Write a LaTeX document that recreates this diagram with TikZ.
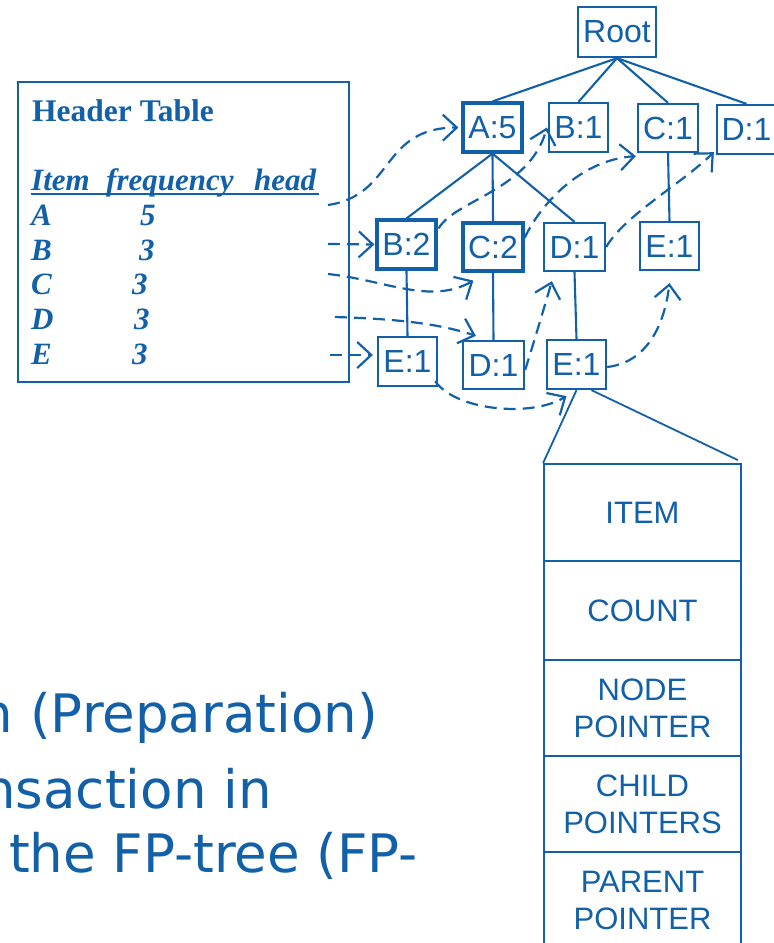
\documentclass[tikz,border=0pt]{standalone}
\usepackage{fontspec}
\setmainfont{Liberation Serif}
\newfontfamily\arialf{Liberation Sans}
\newfontfamily\verdf{DejaVu Sans}
\usetikzlibrary{arrows.meta,calc}
\definecolor{bl}{RGB}{18,96,168}
\begin{document}
\begin{tikzpicture}[x=1pt,y=-1pt,
  tn/.style={draw=bl, line width=2.3pt, rectangle, minimum width=59pt, minimum height=49pt, inner sep=0pt, text=bl, font=\arialf\fontsize{32}{37}\selectfont},
  tnb/.style={tn, line width=3.2pt},
  treeline/.style={draw=bl, line width=2.1pt},
  ptr/.style={draw=bl, line width=2.2pt, dash pattern=on 12pt off 7pt, -{Straight Barb[length=14pt,width=26pt,line width=2.2pt]}},
  httext/.style={anchor=base west, inner sep=0pt, text=bl, font=\fontsize{31}{37}\selectfont\bfseries\itshape},
  fld/.style={draw=bl, line width=1.8pt, minimum width=197pt, inner sep=0pt, text=bl, align=center, font=\arialf\fontsize{31}{37}\selectfont},
  bodytext/.style={anchor=base east, inner sep=0pt, text=bl, font=\verdf\fontsize{53}{60}\selectfont}]
\useasboundingbox (0,0) rectangle (774,943);
\clip (0,0) rectangle (774,943);

% Header table
\node[draw=bl, line width=2.3pt, minimum width=331pt, minimum height=300pt, inner sep=0pt] (ht) at (183.5,232) {};
\node[anchor=base west, inner sep=0pt, text=bl, font=\fontsize{31.5}{37}\selectfont\bfseries] (httitle) at (32,121) {Header Table};
\node[httext] (hitem) at (31,190) {Item};
\node[httext] (hfreq) at (106,190) {frequency};
\node[httext] (hhead) at (254,190) {head};
\coordinate (ul1) at (31,194);
\coordinate (ul2) at (319,194);
\draw[bl, line width=1.8pt] (ul1) -- (ul2);
\node[httext] (rA) at (31,225) {A};
\node[httext] (fA) at (140,225) {5};
\node[httext] (rB) at (31,260) {B};
\node[httext] (fB) at (139,260) {3};
\node[httext] (rC) at (31,294) {C};
\node[httext] (fC) at (132,294) {3};
\node[httext] (rD) at (31,329) {D};
\node[httext] (fD) at (134,329) {3};
\node[httext] (rE) at (31,364) {E};
\node[httext] (fE) at (132,364) {3};

% Tree nodes
\node[tn, minimum width=78pt, minimum height=50pt] (root) at (617,32) {Root};
\node[tnb] (A5) at (492.5,127.5) {A:5};
\node[tn] (B1) at (578.5,127.5) {B:1};
\node[tn, minimum width=60pt, minimum height=48pt] (C1) at (668,128) {C:1};
\node[tn] (D1a) at (746.5,129.5) {D:1};
\node[tnb] (B2) at (406.5,244.5) {B:2};
\node[tnb, minimum width=60pt, minimum height=48pt] (C2) at (493,247) {C:2};
\node[tn, minimum width=61pt, minimum height=48pt] (D1b) at (574.5,247) {D:1};
\node[tn, minimum height=48pt] (E1a) at (669.5,246) {E:1};
\node[tn] (E1b) at (407.5,361.5) {E:1};
\node[tn, minimum width=61pt, minimum height=48pt] (D1c) at (493.5,365) {D:1};
\node[tn] (E1c) at (576.5,364.5) {E:1};

% Tree edges
\draw[treeline] (root.south) -- (A5.north);
\draw[treeline] (root.south) -- (B1.north);
\draw[treeline] (root.south) -- (C1.north);
\draw[treeline] (root.south) -- (D1a.north);
\draw[treeline] (A5.south) -- (B2.north);
\draw[treeline] (A5.south) -- (C2.north);
\draw[treeline] (A5.south) -- (D1b.north);
\draw[treeline] (B2.south) -- (E1b.north);
\draw[treeline] (C2.south) -- (D1c.north);
\draw[treeline] (D1b.south) -- (E1c.north);
\draw[treeline] (C1.south) -- (E1a.north);

% Header pointers
\coordinate (hA) at (328,205);
\coordinate (hB) at (328,244);
\coordinate (hC) at (328,274);
\coordinate (hD) at (335,317);
\coordinate (hE) at (330,355);
\draw[ptr, shorten >=3pt] (hA) .. controls (395,195) and (380,128) .. (A5.west);
\draw[ptr, shorten >=1pt] (hB) -- (B2.west);
\draw[ptr] (hC) .. controls (385,280) and (430,305) .. ([shift={(12,8)}]C2.south west);
\draw[ptr] (hD) .. controls (400,319) and (440,324) .. ([shift={(14,-4)}]D1c.north west);
\draw[ptr, shorten >=4pt] (hE) -- ([shift={(0,-6.5)}]E1b.west);

% Node links
\draw[ptr] ([shift={(1,10)}]B2.north east) .. controls (455,200) and (530,190) .. ([shift={(-1,0)}]B1.west);
\draw[ptr] ([shift={(0,-9)}]C2.east) .. controls (540,205) and (580,160) .. ([shift={(-1,3)}]C1.south west);
\draw[ptr] (D1b.east) .. controls (625,215) and (680,185) .. ([shift={(-2,-3)}]D1a.south west);
\draw[ptr] ([shift={(0,5)}]D1c.east) .. controls (533,345) and (545,305) .. ([shift={(9,9)}]D1b.south west);
\draw[ptr] ([shift={(0,2.5)}]E1c.east) .. controls (650,362) and (665,320) .. ([shift={(0,12)}]E1a.south);
\draw[ptr] ([shift={(-3,-6)}]E1b.south east) .. controls (455,410) and (530,418) .. ([shift={(-10,6)}]E1c.south);

% Node structure
\node[fld, minimum height=97pt] (item) at (642.5,512.5) {ITEM};
\node[fld, minimum height=99pt] (count) at (642.5,610.5) {COUNT};
\node[fld, minimum height=96pt] (nodeptr) at (642.5,708) {NODE\\POINTER};
\node[fld, minimum height=96pt] (childptr) at (642.5,804) {CHILD\\POINTERS};
\node[fld, minimum height=97pt] (parentptr) at (642.5,900.5) {PARENT\\POINTER};
\draw[bl, line width=1.8pt] (E1c.south) -- (item.north west);
\draw[bl, line width=1.8pt] ([shift={(15,0)}]E1c.south) -- ([shift={(-4,-3)}]item.north east);

% Body text
\node[bodytext] (t1) at (378,732) {n (Preparation)};
\node[bodytext] (t2) at (272,808) {nsaction in};
\node[bodytext] (t3) at (418,872) {the FP-tree (FP-};
\end{tikzpicture}
\end{document}
